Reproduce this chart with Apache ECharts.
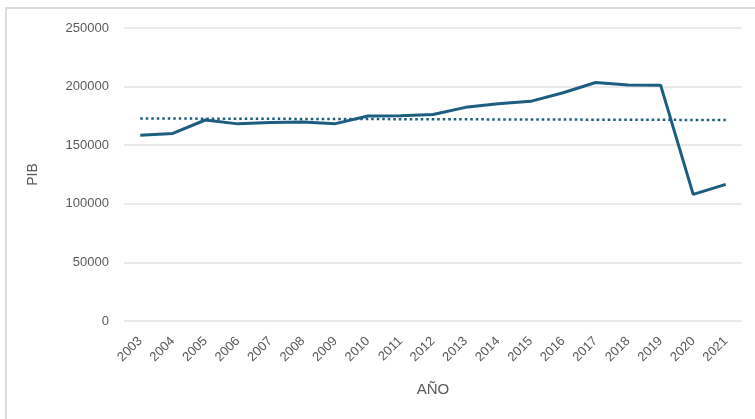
<!DOCTYPE html>
<html>
<head>
<meta charset="utf-8">
<script src="https://cdn.jsdelivr.net/npm/echarts@6/dist/echarts.min.js"></script>
<style>
  html, body { margin: 0; padding: 0; background: #fff; }
  #frame { position: absolute; left: 5px; top: 7px; width: 800px; height: 460px;
           border-top: 2px solid #dcdcdc; border-left: 2px solid #dcdcdc; }
  #chart { position: absolute; left: 0; top: 0; width: 755px; height: 419px; }
</style>
</head>
<body>
<div id="frame"></div>
<div id="chart"></div>
<script>
// Años y PIB anual
const anios = ['2003','2004','2005','2006','2007','2008','2009','2010','2011','2012',
               '2013','2014','2015','2016','2017','2018','2019','2020','2021'];
const pib = [158500, 160000, 171500, 168200, 169400, 169800, 168400, 174900, 175100, 176200,
             182300, 185400, 187400, 194800, 203500, 201400, 201100, 108000, 116600];
// Línea de tendencia (valores en el primer y último año)
const tendencia = [172800, 171500];
const ejeY = { min: 0, max: 250000, interval: 50000 };

const color = '#1b5e7f';
const gris = '#595959';
const fuente = 'Liberation Sans, Arial, sans-serif';

const chart = echarts.init(document.getElementById('chart'));
chart.setOption({
  animation: false,
  grid: { left: 124, right: 13, top: 28, bottom: 98 },
  xAxis: {
    type: 'category',
    data: anios,
    boundaryGap: true,
    name: 'AÑO',
    nameLocation: 'middle',
    nameGap: 61,
    nameTextStyle: { color: gris, fontSize: 15, fontFamily: fuente },
    axisLine: { show: false },
    axisTick: { show: false },
    axisLabel: { rotate: 45, margin: 18, color: gris, fontSize: 13, fontFamily: fuente }
  },
  yAxis: {
    type: 'value',
    min: ejeY.min, max: ejeY.max, interval: ejeY.interval,
    name: 'PIB',
    nameLocation: 'middle',
    nameGap: 84,
    nameTextStyle: { color: gris, fontSize: 14, fontFamily: fuente },
    axisLine: { show: false },
    axisTick: { show: false },
    axisLabel: { margin: 15, color: gris, fontSize: 13, fontFamily: fuente,
                 formatter: v => String(v) },
    splitLine: { lineStyle: { color: '#e3e3e3', width: 1.5 } }
  },
  series: [{
    type: 'line',
    data: pib,
    symbol: 'none',
    lineStyle: { color: color, width: 3 },
    z: 3,
    markLine: {
      silent: true,
      symbol: ['none', 'none'],
      label: { show: false },
      lineStyle: { color: color, width: 2.5, type: [2.5, 3] },
      data: [[
        { coord: [anios[0], tendencia[0]] },
        { coord: [anios[anios.length - 1], tendencia[1]] }
      ]]
    }
  }]
});
</script>
</body>
</html>
